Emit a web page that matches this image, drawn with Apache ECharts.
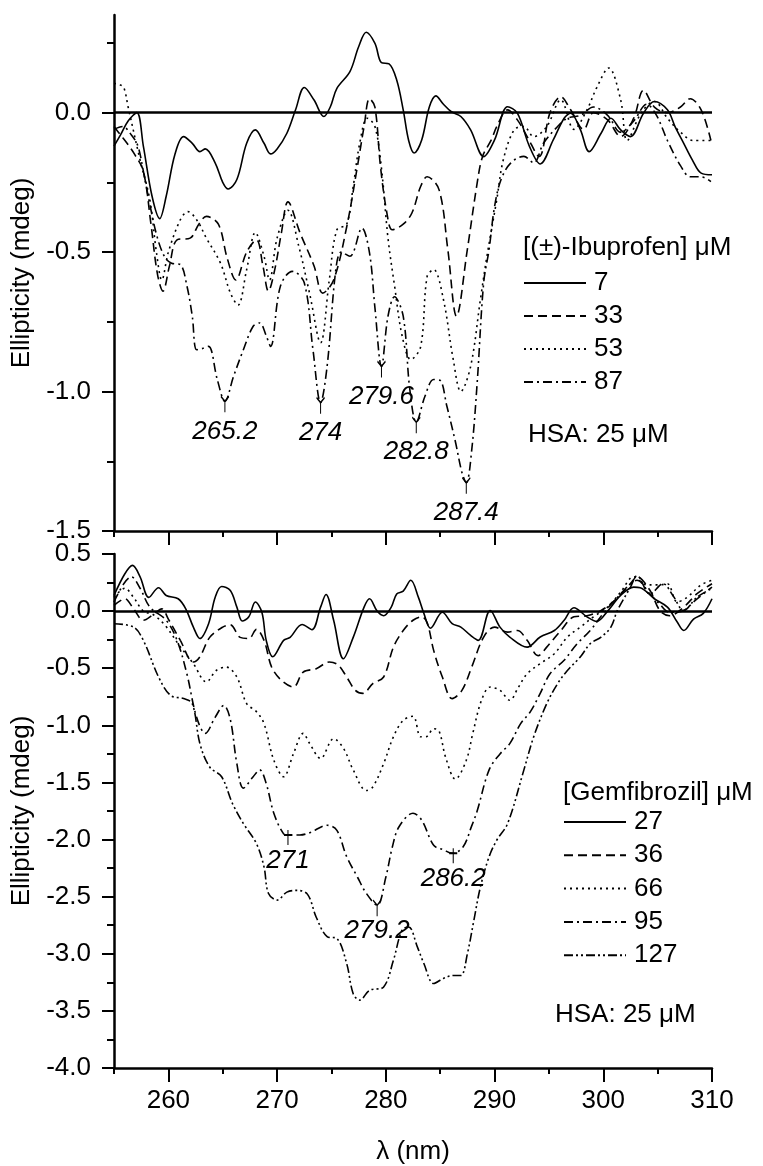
<!DOCTYPE html>
<html>
<head>
<meta charset="utf-8">
<script src="https://cdn.jsdelivr.net/npm/echarts@6/dist/echarts.min.js"></script>
<style>
  body { margin: 0; padding: 0; background: #fff; }
  #chart { width: 763px; height: 1166px; }
</style>
</head>
<body>
<div id="chart"></div>
<script>
// ---- data: [wavelength nm, ellipticity mdeg] ----
var ibu7 = [[255.0,-0.12],[255.6,-0.08],[256.3,-0.03],[257.1,0.0],[257.7,-0.12],[258.5,-0.3],[259.2,-0.38],[259.8,-0.3],[260.6,-0.15],[261.4,-0.086],[262.2,-0.11],[262.9,-0.14],[263.4,-0.13],[264.3,-0.18],[265.0,-0.25],[265.5,-0.274],[266.3,-0.24],[267.2,-0.11],[268.0,-0.062],[268.8,-0.11],[269.4,-0.148],[270.0,-0.13],[270.9,-0.074],[271.7,0.01],[272.5,0.09],[273.4,0.045],[274.3,-0.014],[274.9,0.021],[275.5,0.087],[276.7,0.147],[277.5,0.236],[278.2,0.288],[279.0,0.248],[279.6,0.179],[280.3,0.175],[281.0,0.117],[281.6,0.01],[282.1,-0.1],[282.6,-0.145],[283.3,-0.098],[284.0,0.02],[284.6,0.06],[285.3,0.03],[286.0,0.004],[286.9,-0.014],[287.8,-0.062],[289.0,-0.158],[290.0,-0.098],[291.2,0.021],[292.1,-0.002],[293.2,-0.12],[294.2,-0.184],[295.4,-0.098],[296.4,-0.02],[297.0,-0.002],[297.9,-0.062],[298.7,-0.14],[299.8,-0.074],[300.7,-0.02],[301.6,-0.062],[302.5,-0.086],[303.7,-0.002],[304.7,0.04],[305.9,0.01],[306.6,-0.05],[307.4,-0.11],[308.2,-0.17],[309.0,-0.217],[310.0,-0.223]];
var ibu33 = [[255.0,-0.05],[255.6,-0.08],[256.2,-0.11],[256.9,-0.15],[257.7,-0.21],[258.4,-0.4],[259.0,-0.58],[259.5,-0.64],[260.1,-0.55],[260.8,-0.456],[262.0,-0.45],[262.8,-0.4],[263.5,-0.372],[264.6,-0.4],[265.4,-0.52],[266.2,-0.6],[267.2,-0.5],[268.1,-0.456],[268.7,-0.55],[269.2,-0.64],[269.8,-0.56],[270.4,-0.43],[271.0,-0.32],[272.1,-0.43],[273.4,-0.55],[274.2,-0.647],[275.2,-0.6],[276.4,-0.41],[277.4,-0.19],[278.0,-0.05],[278.5,0.05],[279.0,0.02],[279.5,-0.19],[280.1,-0.36],[280.6,-0.42],[281.6,-0.40],[282.4,-0.36],[283.2,-0.265],[283.8,-0.23],[284.9,-0.277],[285.7,-0.49],[286.5,-0.73],[287.5,-0.49],[288.4,-0.253],[288.9,-0.157],[289.7,-0.098],[290.2,-0.05],[291.2,0.01],[292.1,-0.026],[293.0,-0.086],[294.1,-0.157],[295.1,0.0],[296.1,0.057],[297.0,0.01],[298.2,-0.06],[299.1,0.0],[300.4,-0.026],[301.6,-0.086],[302.8,-0.02],[303.7,0.08],[304.7,0.02],[305.9,0.0],[307.1,0.02],[308.0,0.05],[309.0,0.01],[309.9,-0.1]];
var ibu53 = [[255.0,0.105],[255.5,0.1],[255.9,0.09],[256.3,0.02],[257.4,-0.17],[258.3,-0.313],[258.9,-0.5],[259.4,-0.6],[260.0,-0.5],[261.1,-0.384],[261.8,-0.355],[262.6,-0.384],[263.5,-0.45],[264.8,-0.54],[265.7,-0.646],[266.4,-0.69],[267.2,-0.563],[268.0,-0.43],[268.8,-0.515],[269.3,-0.6],[270.0,-0.45],[271.0,-0.35],[272.0,-0.48],[273.0,-0.65],[274.0,-0.825],[274.8,-0.6],[275.5,-0.42],[276.4,-0.4],[277.0,-0.265],[277.6,-0.11],[278.3,-0.02],[279.0,-0.05],[279.6,-0.2],[280.2,-0.45],[280.8,-0.62],[281.5,-0.8],[282.3,-0.885],[283.2,-0.84],[283.8,-0.587],[284.4,-0.563],[285.3,-0.67],[286.2,-0.885],[286.9,-1.0],[287.8,-0.91],[288.7,-0.67],[289.3,-0.515],[290.2,-0.313],[290.8,-0.17],[291.8,-0.062],[292.7,-0.05],[293.6,-0.086],[294.8,-0.05],[296.1,0.046],[297.3,-0.06],[298.5,0.01],[299.4,0.09],[300.5,0.16],[301.6,0.046],[302.2,-0.1],[303.5,0.0],[304.7,0.04],[305.9,-0.02],[307.1,-0.07],[308.3,-0.1],[309.9,-0.1]];
var ibu87 = [[255.0,-0.06],[255.8,-0.05],[256.6,-0.08],[257.2,-0.12],[257.7,-0.21],[258.3,-0.33],[259.0,-0.45],[259.7,-0.52],[260.3,-0.54],[261.1,-0.545],[261.7,-0.62],[262.2,-0.73],[262.6,-0.85],[263.2,-0.845],[263.7,-0.838],[264.5,-0.957],[265.2,-1.035],[266.0,-0.945],[266.9,-0.85],[267.8,-0.766],[268.4,-0.754],[269.0,-0.8],[269.4,-0.838],[270.3,-0.623],[271.4,-0.569],[272.5,-0.61],[273.3,-0.85],[274.0,-1.04],[274.6,-0.91],[275.4,-0.563],[275.9,-0.5],[276.7,-0.515],[277.8,-0.414],[278.5,-0.503],[279.0,-0.7],[279.6,-0.91],[280.2,-0.73],[280.8,-0.66],[281.6,-0.73],[282.2,-0.99],[282.8,-1.11],[283.6,-1.017],[284.4,-0.957],[285.0,-0.96],[285.6,-1.05],[286.4,-1.18],[287.0,-1.29],[287.4,-1.327],[287.9,-1.21],[288.4,-0.97],[289.0,-0.61],[289.5,-0.49],[290.0,-0.337],[290.6,-0.24],[291.5,-0.18],[292.7,-0.157],[293.6,-0.18],[294.5,-0.11],[295.8,-0.05],[296.7,-0.02],[297.9,-0.01],[299.1,0.02],[300.4,-0.01],[301.6,-0.07],[302.8,-0.03],[304.0,0.03],[304.9,-0.01],[305.9,-0.1],[307.1,-0.19],[308.0,-0.23],[309.0,-0.23],[309.9,-0.247]];

var gem27 = [[255.0,0.137],[256.0,0.327],[256.7,0.40],[257.4,0.30],[258.2,0.12],[259.1,0.205],[259.8,0.137],[260.9,0.108],[261.6,0.02],[262.3,-0.14],[262.9,-0.24],[263.7,-0.11],[264.3,0.12],[264.9,0.216],[265.7,0.18],[266.3,0.035],[266.8,-0.087],[267.4,-0.05],[268.0,0.08],[268.6,-0.01],[269.0,-0.256],[269.6,-0.40],[270.6,-0.256],[271.2,-0.23],[272.3,-0.117],[273.2,-0.163],[274.0,0.035],[274.5,0.146],[275.2,-0.08],[276.1,-0.417],[277.0,-0.23],[278.0,0.035],[278.5,0.108],[279.2,0.0],[279.8,-0.04],[280.5,0.035],[281.0,0.15],[281.6,0.175],[282.3,0.27],[283.0,0.12],[283.5,-0.02],[284.1,-0.15],[285.2,-0.01],[286.1,-0.11],[286.9,-0.14],[287.8,-0.213],[288.5,-0.256],[289.6,0.006],[290.5,-0.14],[291.4,-0.227],[293.0,-0.315],[294.2,-0.227],[295.5,-0.17],[296.4,-0.08],[297.3,0.03],[298.5,-0.05],[299.4,-0.09],[300.4,0.0],[301.6,0.137],[302.8,0.21],[303.4,0.205],[304.7,0.108],[305.9,0.035],[306.8,-0.096],[307.4,-0.17],[308.3,-0.07],[309.2,-0.02],[310.0,0.108]];
var gem36 = [[255.0,0.05],[256.0,0.108],[256.8,0.02],[257.7,-0.08],[258.6,-0.03],[259.4,0.02],[260.0,-0.07],[261.1,-0.256],[262.3,-0.446],[262.9,-0.40],[263.8,-0.23],[265.0,-0.14],[265.7,-0.12],[266.6,-0.23],[267.4,-0.24],[268.1,-0.16],[268.8,-0.256],[269.5,-0.49],[270.4,-0.606],[271.5,-0.665],[272.4,-0.534],[273.6,-0.504],[274.8,-0.446],[275.6,-0.47],[276.4,-0.577],[277.2,-0.694],[277.9,-0.72],[278.8,-0.635],[279.8,-0.577],[280.7,-0.315],[281.6,-0.17],[282.5,-0.08],[283.3,-0.05],[283.8,-0.1],[284.4,-0.344],[285.2,-0.577],[286.1,-0.766],[287.0,-0.694],[287.9,-0.49],[289.0,-0.227],[290.0,-0.14],[291.2,-0.184],[292.1,-0.17],[293.0,-0.256],[294.0,-0.39],[294.8,-0.315],[296.1,-0.17],[297.3,-0.05],[298.5,-0.04],[299.8,0.006],[301.0,0.09],[302.5,0.24],[303.1,0.30],[304.3,0.18],[305.2,0.006],[306.1,-0.04],[307.4,0.035],[308.6,0.15],[310.0,0.24]];
var gem66 = [[255.0,0.12],[256.0,0.2],[256.8,0.12],[257.7,0.0],[258.6,-0.03],[259.7,-0.125],[261.0,-0.3],[262.3,-0.46],[263.5,-0.62],[264.4,-0.52],[265.3,-0.49],[266.3,-0.577],[267.2,-0.81],[268.1,-0.88],[268.8,-0.985],[269.7,-1.306],[270.6,-1.45],[271.5,-1.25],[272.4,-1.07],[273.0,-1.16],[274.0,-1.29],[275.2,-1.117],[276.1,-1.2],[277.0,-1.39],[278.2,-1.57],[278.8,-1.54],[279.8,-1.335],[280.7,-1.1],[281.6,-0.956],[282.5,-0.92],[283.2,-1.1],[283.7,-1.1],[284.4,-1.03],[284.9,-1.05],[285.5,-1.28],[286.4,-1.47],[287.4,-1.306],[288.0,-1.07],[288.8,-0.78],[289.6,-0.665],[290.5,-0.694],[291.4,-0.78],[292.2,-0.665],[293.0,-0.548],[294.2,-0.46],[295.5,-0.373],[296.7,-0.227],[297.9,-0.14],[299.1,-0.05],[300.4,0.035],[301.6,0.166],[302.8,0.30],[304.0,0.23],[305.2,0.23],[305.9,0.24],[306.8,0.08],[307.7,0.12],[309.0,0.23],[310.0,0.27]];
var gem95 = [[255.0,0.08],[255.9,0.24],[256.6,0.30],[257.4,0.2],[258.3,0.035],[259.8,-0.08],[260.8,-0.256],[261.7,-0.548],[262.6,-0.93],[263.4,-1.07],[264.3,-0.93],[265.1,-0.825],[265.7,-0.95],[266.3,-1.335],[266.9,-1.55],[267.8,-1.45],[268.4,-1.39],[269.0,-1.51],[269.7,-1.77],[270.6,-1.95],[271.0,-1.96],[272.1,-1.96],[273.0,-1.94],[274.6,-1.875],[275.5,-1.92],[276.4,-2.15],[277.4,-2.33],[278.2,-2.47],[279.2,-2.575],[280.0,-2.33],[280.6,-2.065],[281.2,-1.89],[282.5,-1.77],[283.3,-1.83],[284.4,-2.05],[285.3,-2.09],[286.1,-2.12],[287.1,-2.065],[287.9,-1.88],[288.4,-1.75],[289.5,-1.39],[290.5,-1.25],[291.4,-1.16],[292.4,-0.985],[293.3,-0.88],[294.2,-0.72],[295.1,-0.548],[296.4,-0.43],[297.6,-0.285],[298.8,-0.17],[300.0,-0.02],[301.3,0.12],[302.5,0.24],[303.1,0.27],[304.3,0.15],[305.2,0.06],[306.1,-0.01],[307.4,0.006],[308.3,0.08],[309.2,0.15],[310.0,0.21]];
var gem127 = [[255.0,-0.11],[256.8,-0.14],[257.7,-0.256],[259.1,-0.577],[260.2,-0.738],[261.4,-0.766],[262.2,-0.81],[262.9,-1.16],[263.8,-1.365],[264.9,-1.45],[265.9,-1.685],[266.9,-1.86],[268.1,-2.035],[268.8,-2.24],[269.2,-2.47],[270.0,-2.53],[270.9,-2.46],[271.8,-2.445],[272.8,-2.48],[273.6,-2.68],[274.6,-2.85],[275.5,-2.866],[276.4,-3.085],[277.0,-3.35],[277.6,-3.406],[278.5,-3.32],[279.8,-3.29],[280.7,-3.056],[281.5,-2.79],[282.1,-2.765],[282.9,-2.94],[283.5,-3.085],[284.4,-3.26],[285.3,-3.216],[286.2,-3.19],[286.9,-3.19],[287.5,-3.0],[288.1,-2.706],[288.7,-2.415],[289.5,-2.15],[290.2,-2.006],[291.2,-1.86],[292.7,-1.39],[293.6,-1.1],[294.8,-0.81],[295.8,-0.635],[296.7,-0.52],[297.9,-0.4],[298.8,-0.285],[299.8,-0.227],[300.7,-0.14],[301.3,0.006],[302.5,0.21],[303.1,0.31],[304.3,0.15],[305.5,0.24],[306.4,0.137],[307.4,0.006],[308.6,0.12],[310.0,0.2]];

// peak annotations
var annoTopX = [265.2, 274, 279.6, 282.8, 287.4];
var annoTopY = [-1.035, -1.04, -0.91, -1.11, -1.327];
var annoBotX = [271, 279.2, 286.2];
var annoBotY = [-1.96, -2.575, -2.12];
var annoBotMark = ['plus', 'fork', 'plus'];

// axis ticks
var xMajor = [260, 270, 280, 290, 300, 310];
var xMinor = [255, 265, 275, 285, 295, 305];
var yTopMajor = [-1.5, -1.0, -0.5, 0.0];
var yTopMinor = [-1.25, -0.75, -0.25, 0.25];
var yBotMajor = [-4.0, -3.5, -3.0, -2.5, -2.0, -1.5, -1.0, -0.5, 0.0, 0.5];
var yBotMinor = [-3.75, -3.25, -2.75, -2.25, -1.75, -1.25, -0.75, -0.25, 0.25];

var ibuNames = ['7', '33', '53', '87'];
var gemNames = ['27', '36', '66', '95', '127'];

var FONT = '"Liberation Sans", Arial, sans-serif';
var dashes = {
  solid: 'solid',
  dash: [9, 5],
  dot: [2, 4],
  dashdot: [9, 4, 2, 4],
  dashdotdot: [9, 3, 2, 3, 2, 3]
};
var forkPath = 'path://M0,0 L4,5 L8,0 M4,5 L4,16';
var plusPath = 'path://M0,5 L8,5 M4,0 L4,15';

var chart = echarts.init(document.getElementById('chart'));

function xAxes(grid, withLabels) {
  return [{
    gridIndex: grid, type: 'value', min: 255, max: 310, position: 'bottom',
    axisLine: { onZero: false, lineStyle: { color: '#000', width: 2.5 } },
    axisTick: { customValues: xMajor, length: 14, lineStyle: { color: '#000', width: 2 } },
    axisLabel: withLabels ? { customValues: xMajor, margin: 20, fontSize: 26, color: '#000', fontFamily: FONT } : { show: false },
    splitLine: { show: false },
    name: withLabels ? 'λ (nm)' : '',
    nameLocation: 'middle', nameGap: 71,
    nameTextStyle: { fontSize: 26, color: '#000', fontFamily: FONT }
  }, {
    gridIndex: grid, type: 'value', min: 255, max: 310, position: 'bottom',
    axisLine: { show: false, onZero: false },
    axisTick: { customValues: xMinor, length: 6, lineStyle: { color: '#000', width: 2 } },
    axisLabel: { show: false },
    splitLine: { show: false }
  }];
}

function yAxes(grid, min, max, major, minor) {
  return [{
    gridIndex: grid, type: 'value', min: min, max: max, position: 'left',
    axisLine: { onZero: false, lineStyle: { color: '#000', width: 2.5 } },
    axisTick: { customValues: major, length: 12, lineStyle: { color: '#000', width: 2 } },
    axisLabel: { customValues: major, margin: 23, fontSize: 26, color: '#000', fontFamily: FONT,
      formatter: function (v) { return v.toFixed(1); } },
    splitLine: { show: false },
    name: 'Ellipticity (mdeg)', nameLocation: 'middle', nameGap: 79,
    nameTextStyle: { fontSize: 26, color: '#000', fontFamily: FONT }
  }, {
    gridIndex: grid, type: 'value', min: min, max: max, position: 'left',
    axisLine: { show: false, onZero: false },
    axisTick: { customValues: minor, length: 7, lineStyle: { color: '#000', width: 2 } },
    axisLabel: { show: false },
    splitLine: { show: false }
  }];
}

function lineSeries(name, data, xi, yi, type, zero) {
  var s = {
    name: name, type: 'line', xAxisIndex: xi, yAxisIndex: yi,
    data: data, smooth: 0.35, symbol: 'none',
    lineStyle: { color: '#000', width: 1.6, type: type },
    itemStyle: { color: '#000' }
  };
  if (zero) {
    s.markLine = {
      silent: true, symbol: ['none', 'none'], label: { show: false },
      lineStyle: { color: '#000', type: 'solid', width: 2.5 },
      data: [{ yAxis: 0 }]
    };
  }
  return s;
}

var topAnno = annoTopX.map(function (x, i) {
  return { value: [x, annoTopY[i]], name: String(x) };
});
var botAnno = annoBotX.map(function (x, i) {
  var plus = annoBotMark[i] === 'plus';
  return {
    value: [x, annoBotY[i]], name: String(x),
    symbol: plus ? plusPath : forkPath,
    symbolSize: plus ? [8, 15] : [8, 16],
    symbolOffset: plus ? [0, 2.5] : [0, 3]
  };
});

function annoSeries(data, xi, yi, dy) {
  return {
    type: 'scatter', xAxisIndex: xi, yAxisIndex: yi, data: data,
    symbol: forkPath, symbolSize: [8, 16], symbolOffset: [0, 3],
    itemStyle: { color: 'rgba(0,0,0,0)', borderColor: '#000', borderWidth: 1.4, opacity: 1 },
    label: {
      show: true, position: 'inside', offset: [0, dy],
      formatter: function (p) { return p.name; },
      fontSize: 26, fontStyle: 'italic', color: '#000', fontFamily: FONT
    },
    silent: true, z: 5
  };
}

var legendText = { fontSize: 26, color: '#000', fontFamily: FONT, padding: [0, 0, 0, 3] };
var legendMark = { color: 'rgba(0,0,0,0)', borderWidth: 0, opacity: 0 };

var option = {
  animation: false,
  backgroundColor: '#fff',
  grid: [
    { left: 114, right: 51, top: 15, height: 516 },
    { left: 114, right: 51, top: 554, height: 516 }
  ],
  xAxis: xAxes(0, false).concat(xAxes(1, true)),
  yAxis: yAxes(0, -1.5, 0.35, yTopMajor, yTopMinor).concat(yAxes(1, -4.0, 0.5, yBotMajor, yBotMinor)),
  legend: [{
    data: ibuNames, orient: 'vertical', left: 523, top: 270, padding: 0,
    itemWidth: 62, itemHeight: 14, itemGap: 7, selectedMode: false,
    itemStyle: legendMark, textStyle: legendText
  }, {
    data: gemNames, orient: 'vertical', left: 563, top: 809, padding: 0,
    itemWidth: 62, itemHeight: 14, itemGap: 7.3, selectedMode: false,
    itemStyle: legendMark, textStyle: legendText
  }],
  graphic: [
    { type: 'text', left: 523, top: 235, style: { text: '[(±)-Ibuprofen] μM', font: '26px ' + FONT, fill: '#000' } },
    { type: 'text', left: 528, top: 422, style: { text: 'HSA: 25 μM', font: '26px ' + FONT, fill: '#000' } },
    { type: 'text', left: 563, top: 780, style: { text: '[Gemfibrozil] μM', font: '26px ' + FONT, fill: '#000' } },
    { type: 'text', left: 555, top: 1002, style: { text: 'HSA: 25 μM', font: '26px ' + FONT, fill: '#000' } }
  ],
  series: [
    lineSeries(ibuNames[0], ibu7, 0, 0, dashes.solid, true),
    lineSeries(ibuNames[1], ibu33, 0, 0, dashes.dash),
    lineSeries(ibuNames[2], ibu53, 0, 0, dashes.dot),
    lineSeries(ibuNames[3], ibu87, 0, 0, dashes.dashdot),
    lineSeries(gemNames[0], gem27, 2, 2, dashes.solid, true),
    lineSeries(gemNames[1], gem36, 2, 2, dashes.dash),
    lineSeries(gemNames[2], gem66, 2, 2, dashes.dot),
    lineSeries(gemNames[3], gem95, 2, 2, dashes.dashdot),
    lineSeries(gemNames[4], gem127, 2, 2, dashes.dashdotdot),
    annoSeries(topAnno, 0, 0, 27),
    annoSeries(botAnno, 2, 2, 23)
  ]
};
chart.setOption(option);
</script>
</body>
</html>
